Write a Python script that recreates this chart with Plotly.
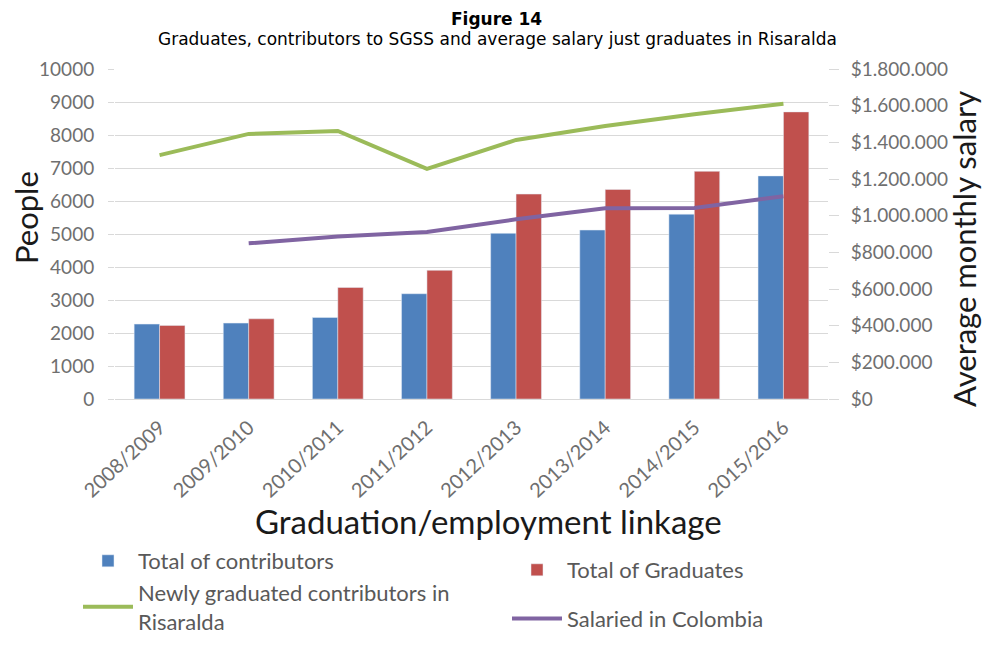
import plotly.graph_objects as go

periods = ["2008/2009", "2009/2010", "2010/2011", "2011/2012",
           "2012/2013", "2013/2014", "2014/2015", "2015/2016"]
total_contributors = [2270, 2300, 2470, 3190, 5020, 5120, 5600, 6760]
total_graduates = [2230, 2430, 3380, 3900, 6210, 6350, 6900, 8700]
newly_graduated_salary = [1330000, 1446000, 1462000, 1255000, 1413000, 1489000, 1553000, 1611000]
salaried_colombia = [None, 849000, 886000, 911000, 980000, 1040000, 1042000, 1106000]

BLUE = "#4F81BD"
RED = "#C0504D"
GREEN = "#9BBB59"
PURPLE = "#8064A2"
GRAY = "#595959"
TICKGRAY = "#6f6f6f"
FONT = "Lato"

# the page body has an 8px margin, so the figure sits at (8, 8) in the window;
# keep it small enough that no scrollbar shows
OFF = 8
W, H = 992 - 2 * OFF, 645 - 2 * OFF
# plot area in page pixels: x 115..828, y 69..399
L, T = 115 - OFF, 69 - OFF
R, B = W - (828 - OFF), H - (399 - OFF)
pw, ph = W - L - R, H - T - B


def px_x(x):
    return (x - OFF - L) / pw


def px_y(y):
    return (H - B - (y - OFF)) / ph


fig = go.Figure()

fig.add_trace(go.Bar(x=periods, y=total_contributors, name="Total of contributors",
                     marker_color=BLUE, legend="legend", legendgroup="a"))
fig.add_trace(go.Bar(x=periods, y=total_graduates, name="Total of Graduates",
                     marker_color=RED, legend="legend2", legendgroup="c"))
fig.add_trace(go.Scatter(x=periods, y=newly_graduated_salary, yaxis="y2", mode="lines",
                         name="Newly graduated contributors in<br>Risaralda",
                         line=dict(color=GREEN, width=4), legend="legend", legendgroup="b"))
fig.add_trace(go.Scatter(x=periods, y=salaried_colombia, yaxis="y2", mode="lines",
                         name="Salaried in Colombia",
                         line=dict(color=PURPLE, width=4), legend="legend2", legendgroup="d"))

salary_ticks = list(range(0, 1800001, 200000))
salary_text = ["$0"] + ["$" + f"{v:,}".replace(",", ".") for v in salary_ticks[1:]]

legend_style = dict(font=dict(family=FONT, size=22, color=GRAY), bgcolor="rgba(0,0,0,0)",
                    itemwidth=50, valign="middle",
                    xanchor="left", yanchor="top", orientation="v")


def note(text, x, y, size, family=FONT, angle=0, color="black"):
    return dict(text=text, x=px_x(x), y=px_y(y), xref="paper", yref="paper",
                xanchor="center", yanchor="middle",
                showarrow=False, textangle=angle,
                font=dict(family=family, size=size, color=color))


fig.update_layout(
    width=W, height=H,
    margin=dict(l=L, r=R, t=T, b=B, autoexpand=False),
    plot_bgcolor="white", paper_bgcolor="white",
    font=dict(family=FONT, color=GRAY),
    barmode="group", bargap=0.43, bargroupgap=0,
    xaxis=dict(tickangle=-43, tickfont=dict(size=20, color=TICKGRAY), showgrid=False,
               showline=True, linecolor="#d9d9d9", ticks="", automargin=False,
               ticklabelstandoff=8),
    yaxis=dict(range=[0, 10000], dtick=1000, tickformat="d",
               tickfont=dict(size=19, color=TICKGRAY),
               showgrid=True, gridcolor="#d9d9d9", zeroline=False, ticks="outside",
               ticklen=6, tickcolor="#d9d9d9", automargin=False, ticklabelstandoff=10),
    yaxis2=dict(overlaying="y", side="right", range=[0, 1800000], tickvals=salary_ticks,
                ticktext=salary_text, tickfont=dict(size=19, color=TICKGRAY), showgrid=False,
                zeroline=False, ticks="outside", ticklen=10, tickcolor="#d9d9d9",
                showline=False, automargin=False, ticklabelstandoff=8),
    legend=dict(x=px_x(78), y=px_y(540), tracegroupgap=0, **legend_style),
    legend2=dict(x=px_x(507), y=px_y(549), tracegroupgap=17, **legend_style),
    annotations=[
        note("<b>Figure 14</b>", 496, 19, 17, "DejaVu Sans"),
        note("Graduates, contributors to SGSS and average salary just graduates in Risaralda",
             498, 39, 17, "DejaVu Sans"),
        note("People", 26, 218, 31, angle=-90, color="#1a1a1a"),
        note("Average monthly salary", 964, 249, 31, angle=-90, color="#1a1a1a"),
        note("Graduation/employment linkage", 488, 521, 33, color="#1a1a1a"),
    ],
)

fig.write_html("out.html")
